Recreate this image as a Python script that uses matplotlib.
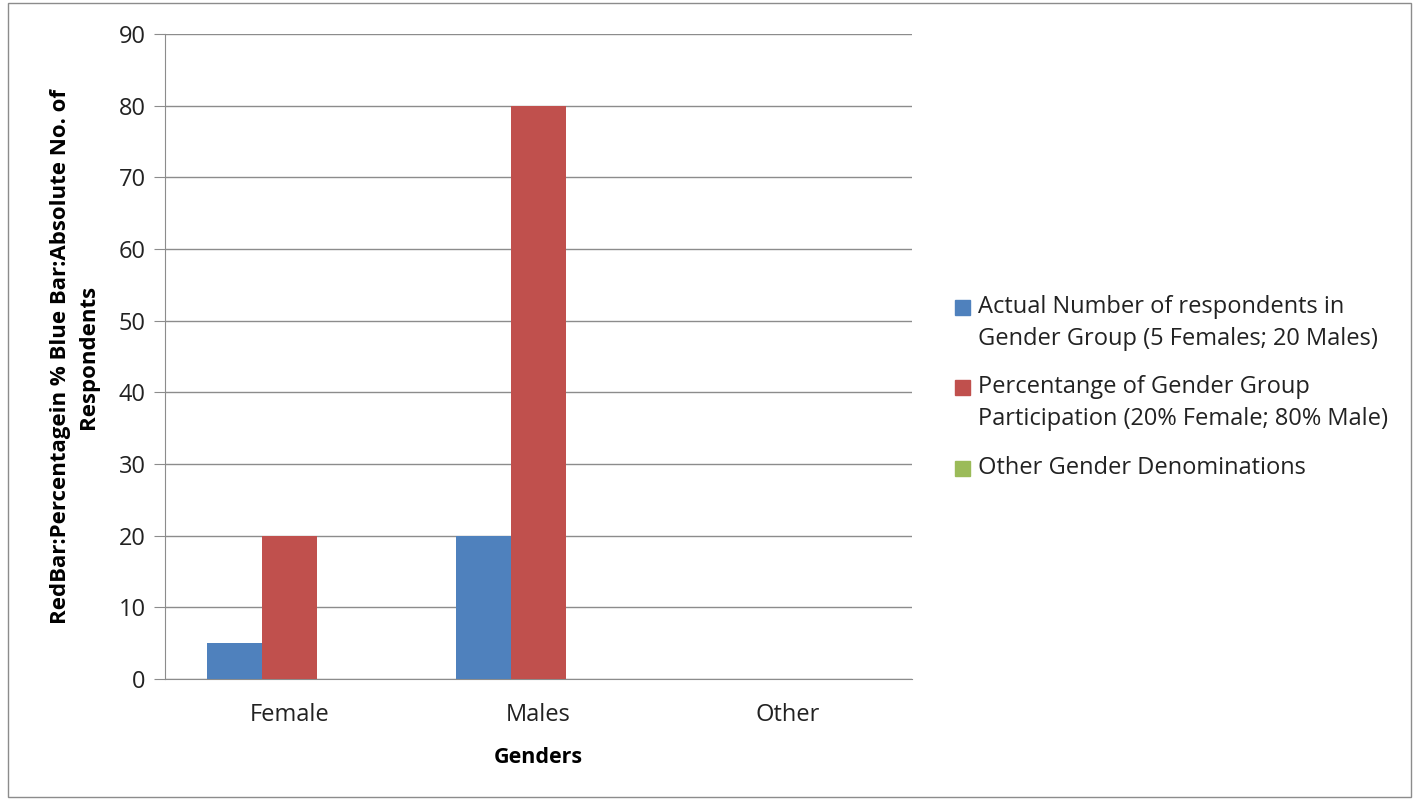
import matplotlib.pyplot as plt
from matplotlib.patches import Rectangle
import numpy as np

# data
genders = ["Female", "Males", "Other"]
actual_counts = [5, 20, 0]
percentages = [20, 80, 0]
other_values = [0, 0, 0]
series_labels = [
    "Actual Number of respondents in\nGender Group (5 Females; 20 Males)",
    "Percentange of Gender Group\nParticipation (20% Female; 80% Male)",
    "Other Gender Denominations",
]
series_colors = ["#4F81BD", "#C0504D", "#9BBB59"]
yticks = list(range(0, 91, 10))

plt.rcParams['font.family'] = ['Open Sans', 'DejaVu Sans']

W, H = 1415, 799
fig = plt.figure(figsize=(W / 100, H / 100), dpi=100)
ax = fig.add_axes([165 / W, 1 - 679 / H, (912 - 165) / W, (679 - 34) / H])

x = np.arange(len(genders))
bw = 0.22
for i, vals in enumerate([actual_counts, percentages, other_values]):
    ax.bar(x + (i - 1) * bw, vals, width=bw, color=series_colors[i], zorder=3)

ax.set_xlim(-0.5, 2.5)
ax.set_ylim(0, 90)
ax.set_yticks(yticks)
ax.set_xticks(x)
ax.set_xticklabels(genders)
ax.yaxis.grid(True, color="#8c8c8c", linewidth=1, zorder=0)
for s in ["top", "right"]:
    ax.spines[s].set_visible(False)
for s in ["left", "bottom"]:
    ax.spines[s].set_color("#8c8c8c")
ax.tick_params(axis='y', length=8, color="#8c8c8c", labelsize=17, labelcolor="#222222", pad=6)
ax.tick_params(axis='x', length=0, labelsize=17, labelcolor="#222222", pad=17)

ax.set_xlabel("Genders", fontsize=15.5, fontweight='bold', labelpad=15)
ax.set_ylabel("RedBar:Percentagein % Blue Bar:Absolute No. of\nRespondents",
              fontsize=16, fontweight='bold', labelpad=14, linespacing=1.45)

# legend drawn by hand so the swatch sits on the first text line
legend_tops = [295, 375, 456]
for lab, col, yt in zip(series_labels, series_colors, legend_tops):
    fig.patches.append(Rectangle((955 / W, 1 - (yt + 20) / H), 15 / W, 15 / H,
                                 transform=fig.transFigure, color=col))
    fig.text(978 / W, 1 - yt / H, lab, fontsize=17, va='top', ha='left',
             color="#222222", linespacing=1.45)

# outer chart border
fig.patches.append(Rectangle((8 / W, 2 / H), (1411 - 8) / W, (796 - 2) / H,
                             transform=fig.transFigure, fill=False,
                             edgecolor="#8c8c8c", linewidth=1))

fig.savefig("out.png", dpi=100)
